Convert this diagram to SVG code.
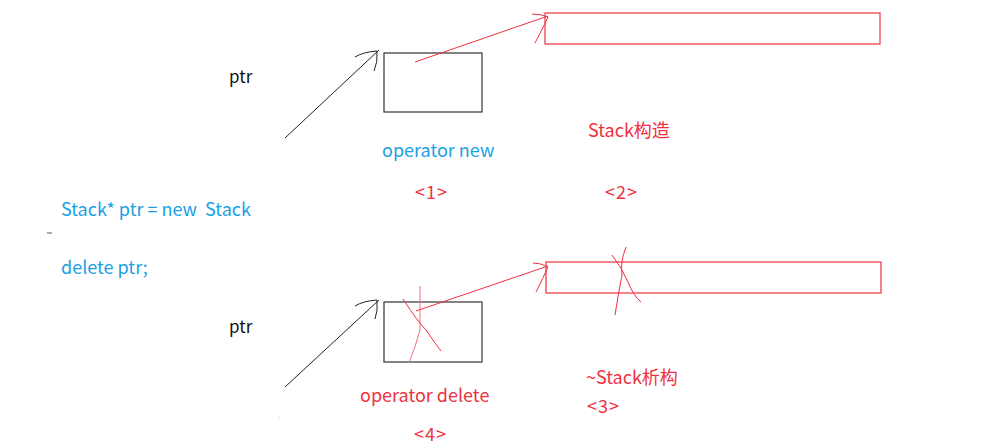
<svg xmlns="http://www.w3.org/2000/svg" width="994" height="446" viewBox="0 0 994 446">
<style>
text{font-family:"Noto Sans CJK SC","Noto Sans",sans-serif;font-size:18px;white-space:pre}
.blue{fill:#1ba1e2}
.red{fill:#f03040}
.blk{fill:#111;font-size:17px}
.box{fill:none;stroke:#333;stroke-width:1.2}
.rbox{fill:none;stroke:#f03040;stroke-width:1.2}
.bl{fill:none;stroke:#222;stroke-width:1}
.rl{fill:none;stroke:#f03040;stroke-width:1}
.pl{fill:none;stroke:#f07080;stroke-width:1}
</style>
<rect width="994" height="446" fill="#fff"/>
<g id="code">
<text class="blue" x="61" y="216" xml:space="preserve">Stack* ptr = new  Stack</text>
<text class="blue" x="61" y="274">delete ptr;</text>
<line x1="47" y1="233" x2="52" y2="233" stroke="#555" stroke-width="1"/>
</g>
<g id="ptr-top"><text class="blk" x="229" y="83">ptr</text></g>
<g id="mem-new">
<rect class="box" x="384" y="53" width="98" height="59"/>
<text class="blue" x="382" y="157">operator new</text>
<text class="red" x="415" y="199" letter-spacing="1">&lt;1&gt;</text>
</g>
<g id="stack-ctor">
<rect class="rbox" x="545" y="13" width="335" height="31"/>
<text class="red" x="588" y="137">Stack构造</text>
<text class="red" x="605" y="199" letter-spacing="1">&lt;2&gt;</text>
</g>
<g id="ptr-bottom"><text class="blk" x="229" y="333">ptr</text></g>
<g id="mem-delete">
<rect class="box" x="384" y="302" width="98" height="60"/>
<text class="red" x="360" y="402">operator delete</text>
<text class="red" x="414" y="441" letter-spacing="1">&lt;4&gt;</text>
<path class="pl" d="M420,286 L420,330 Q416,345 409,363"/>
<path class="rl" d="M403,299 Q418,322 426,330 Q434,342 441,351"/>
</g>
<g id="stack-dtor">
<rect class="rbox" x="546" y="262" width="335" height="31"/>
<text class="red" x="586" y="384">~Stack析构</text>
<text class="red" x="587" y="413" letter-spacing="1">&lt;3&gt;</text>
<path class="rl" d="M626,247 Q620,262 622,275 Q618,295 615,315"/>
<path class="rl" d="M612,255 Q622,268 628,282 Q633,295 641,302"/>
</g>
<g id="connectors">
<path class="bl" d="M285,138 L379,50"/>
<path class="bl" d="M355,57 Q363,52 377,51 Q378,62 374,71"/>
<path class="rl" d="M415,62 L548,16"/>
<path class="rl" d="M532,14 Q541,14 548,17 Q543,28 535,43"/>
<path class="bl" d="M285,387 L379,300"/>
<path class="bl" d="M355,306 Q363,301 377,300 Q378,311 375,319"/>
<path class="rl" d="M416,311 L548,266"/>
<path class="rl" d="M533,263 Q541,263 548,267 Q543,278 536,292"/>
<line x1="279" y1="417" x2="280" y2="418" stroke="#ccc" stroke-width="1"/>
</g>
</svg>
